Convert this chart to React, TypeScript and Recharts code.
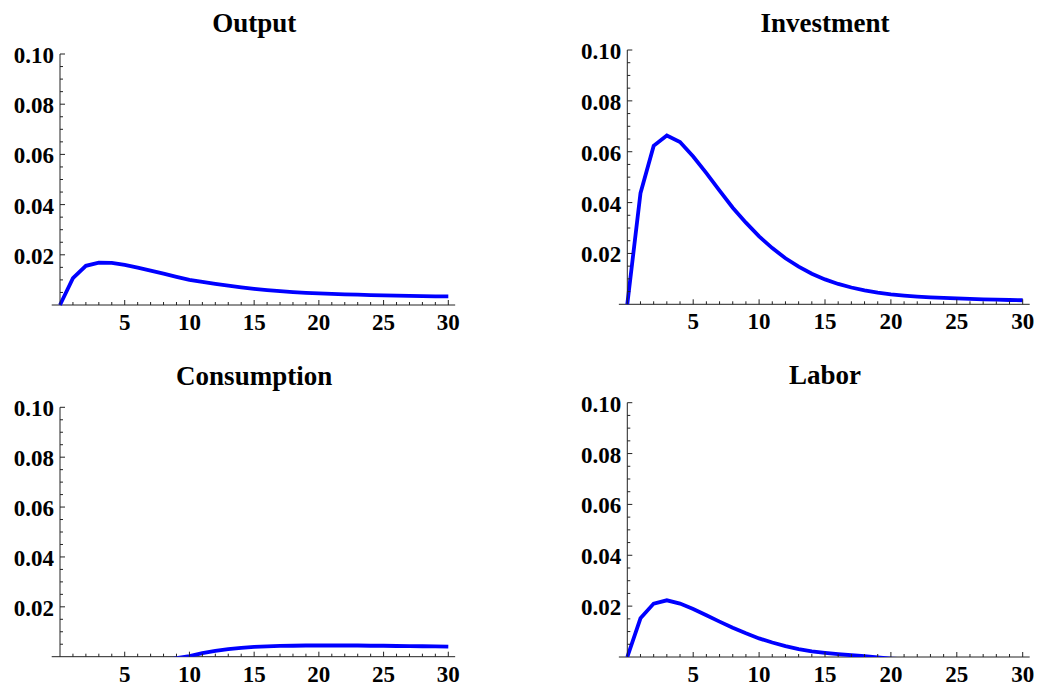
import React from 'react';
import { LineChart, Line, XAxis, YAxis, ReferenceLine } from 'recharts';

// Periods after the shock
const periods = [0, 1, 2, 3, 4, 5, 6, 7, 8, 9, 10, 11, 12, 13, 14, 15, 16, 17, 18, 19, 20, 21, 22, 23, 24, 25, 26, 27, 28, 29, 30];

// Impulse responses, one value per period
const output = [0, 0.0107, 0.0156, 0.0169, 0.0168, 0.016, 0.0149, 0.0137, 0.0125, 0.0112, 0.01, 0.0092, 0.0084, 0.0077, 0.007, 0.0064, 0.0059, 0.0055, 0.0051, 0.0048, 0.0046, 0.0044, 0.0042, 0.0041, 0.0039, 0.0038, 0.0037, 0.0036, 0.0035, 0.0034, 0.0034];
const investment = [0, 0.0437, 0.0623, 0.0664, 0.0638, 0.0581, 0.0516, 0.0447, 0.038, 0.0321, 0.0267, 0.0221, 0.0181, 0.0148, 0.012, 0.0098, 0.008, 0.0066, 0.0055, 0.0046, 0.0039, 0.0034, 0.003, 0.0027, 0.0025, 0.0023, 0.0021, 0.0019, 0.0018, 0.0017, 0.0016];
const consumption = [-0.0085, -0.0078, -0.007, -0.0061, -0.0052, -0.0043, -0.0034, -0.0025, -0.0016, -0.0006, 0.0002, 0.0014, 0.0023, 0.003, 0.0035, 0.0039, 0.0041, 0.0043, 0.0044, 0.0045, 0.0045, 0.0045, 0.0045, 0.0045, 0.0044, 0.0044, 0.0043, 0.0042, 0.0042, 0.0041, 0.004];
const labor = [0, 0.0152, 0.021, 0.0223, 0.021, 0.0189, 0.0164, 0.0139, 0.0115, 0.0093, 0.0073, 0.0057, 0.0043, 0.0031, 0.0022, 0.0016, 0.0011, 0.0007, 0.0003, -0.0002, -0.0006, -0.0009, -0.0011, -0.0013, -0.0014, -0.0015, -0.0015, -0.0016, -0.0016, -0.0016, -0.0016];

// Tick positions (minor and major) and the labelled subset
const xTicks = [1, 2, 3, 4, 5, 6, 7, 8, 9, 10, 11, 12, 13, 14, 15, 16, 17, 18, 19, 20, 21, 22, 23, 24, 25, 26, 27, 28, 29, 30];
const xLabels = [5, 10, 15, 20, 25, 30];
const yTicks = [0.005, 0.01, 0.015, 0.02, 0.025, 0.03, 0.035, 0.04, 0.045, 0.05, 0.055, 0.06, 0.065, 0.07, 0.075, 0.08, 0.085, 0.09, 0.095, 0.1];
const yLabels = ['0.02', '0.04', '0.06', '0.08', '0.10'];

const FONT = '"Liberation Serif", "Times New Roman", Times, serif';
const AXIS = '#222';

function XTick(props: any) {
  const { x, y, payload } = props;
  const v = payload.value;
  const major = xLabels.includes(v);
  return (
    <g>
      <line x1={x} x2={x} y1={y} y2={y - (major ? 5 : 3)} stroke={AXIS} strokeWidth={1} />
      {major && (
        <text x={x} y={y + 25} textAnchor="middle" fontFamily={FONT} fontWeight="bold" fontSize={23} fill="#000">
          {v}
        </text>
      )}
    </g>
  );
}

function YTick(props: any) {
  const { x, y, payload } = props;
  const label = Number(payload.value).toFixed(2);
  const major = yLabels.includes(label) && Math.abs(Number(label) - payload.value) < 1e-9;
  return (
    <g>
      <line x1={x} x2={x + (major ? 5 : 3)} y1={y} y2={y} stroke={AXIS} strokeWidth={1} />
      {major && (
        <text x={x - 6} y={y + 9} textAnchor="end" fontFamily={FONT} fontWeight="bold" fontSize={23} fill="#000">
          {label}
        </text>
      )}
    </g>
  );
}

type Box = {
  left: number; top: number; width: number; height: number;
  plotLeft: number; plotRight: number; plotTop: number; plotBottom: number; titleY: number;
};

function Panel({ title, values, box, clip }: { title: string; values: number[]; box: Box; clip: boolean }) {
  const data = periods.map((t, i) => ({ t, v: values[i] }));
  const { left, top, width, height, plotLeft, plotRight, plotTop, plotBottom, titleY } = box;
  return (
    <div style={{ position: 'absolute', left, top, width, height }}>
      <LineChart
        width={width}
        height={height}
        data={data}
        margin={{ top: plotTop, right: width - plotRight, bottom: 0, left: 0 }}
      >
        <XAxis
          dataKey="t"
          type="number"
          domain={[0, 30]}
          ticks={xTicks}
          interval={0}
          tickSize={0}
          tickMargin={0}
          tickLine={false}
          axisLine={false}
          height={height - plotBottom}
          tick={XTick}
        />
        <YAxis
          type="number"
          domain={[0, 0.1]}
          ticks={yTicks}
          interval={0}
          allowDataOverflow={clip}
          width={plotLeft}
          tickSize={0}
          tickMargin={0}
          tickLine={false}
          axisLine={{ stroke: AXIS, strokeWidth: 1 }}
          tick={YTick}
        />
        <ReferenceLine
          segment={[{ x: -0.64, y: 0 }, { x: 30.53, y: 0 }]}
          ifOverflow="visible"
          stroke={AXIS}
          strokeWidth={1}
        />
        <Line
          dataKey="v"
          type="linear"
          stroke="#0000ff"
          strokeWidth={3.8}
          dot={false}
          activeDot={false}
          isAnimationActive={false}
        />
      </LineChart>
      <svg
        width={width}
        height={height}
        style={{ position: 'absolute', left: 0, top: 0, pointerEvents: 'none' }}
      >
        <text
          x={(plotLeft + plotRight) / 2}
          y={titleY}
          textAnchor="middle"
          fontFamily={FONT}
          fontWeight="bold"
          fontSize={27}
          fill="#000"
        >
          {title}
        </text>
      </svg>
    </div>
  );
}

const boxOutput: Box = { left: 0, top: 0, width: 520, height: 345, plotLeft: 60, plotRight: 448.3, plotTop: 54, plotBottom: 305, titleY: 32 };
const boxInvestment: Box = { left: 520, top: 0, width: 519, height: 345, plotLeft: 107.3, plotRight: 502.7, plotTop: 50, plotBottom: 304.3, titleY: 32 };
const boxConsumption: Box = { left: 0, top: 345, width: 520, height: 345, plotLeft: 60, plotRight: 448.3, plotTop: 62.3, plotBottom: 311.7, titleY: 40 };
const boxLabor: Box = { left: 520, top: 345, width: 519, height: 345, plotLeft: 107.3, plotRight: 502.7, plotTop: 57.7, plotBottom: 312, titleY: 39 };

export default function App() {
  return (
    <div style={{ position: 'absolute', left: 0, top: 0, width: 1039, height: 690, background: '#fff' }}>
      <Panel title="Output" values={output} box={boxOutput} clip={false} />
      <Panel title="Investment" values={investment} box={boxInvestment} clip={false} />
      <Panel title="Consumption" values={consumption} box={boxConsumption} clip={true} />
      <Panel title="Labor" values={labor} box={boxLabor} clip={true} />
    </div>
  );
}
